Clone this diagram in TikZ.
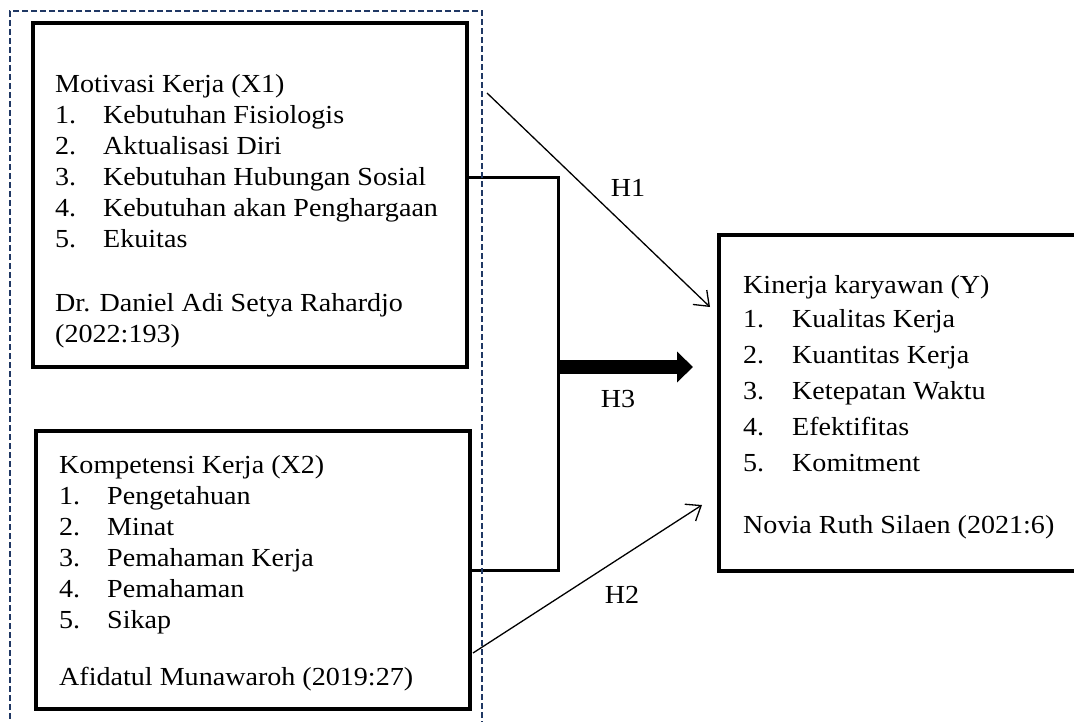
\documentclass[tikz,border=0pt]{standalone}
\usepackage{fontspec}
\setmainfont[FakeStretch=1.08]{Liberation Serif}
\usetikzlibrary{arrows.meta}
\definecolor{navy}{HTML}{203864}
\newcommand\numcol[1]{\makebox[48pt][l]{#1}}
\begin{document}
\begin{tikzpicture}[x=1pt,y=-1pt,
  box/.style={draw,line width=4pt,inner sep=0pt},
  txt/.style={inner sep=0pt,anchor=base west,font=\fontsize{26}{31}\selectfont},
  lbl/.style={inner sep=0pt,anchor=base,font=\fontsize{26}{31}\selectfont},
  bracket/.style={draw,line width=3pt},
  thinarrow/.style={draw,line width=1.3pt,-{Straight Barb[length=13pt,width=20pt,line width=1.3pt]}},
  fatarrow/.style={draw,line width=14pt,-{Triangle[length=16pt,width=30pt]}},
  group/.style={draw=navy,line width=1.6pt,dash pattern=on 6pt off 3pt,inner sep=0pt}]
\useasboundingbox (0,0) rectangle (1074,722);

% boxes
\node[box,minimum width=434pt,minimum height=344pt] (x1) at (250,195) {};
\node[box,minimum width=434pt,minimum height=278pt] (x2) at (253,570) {};
\node[box,minimum width=361pt,minimum height=336pt] (y) at (899.5,403) {};

% texts
\node[txt] (x1t) at (55,93) {\begin{tabular}[t]{@{}l@{}}
Motivasi Kerja (X1)\\
\numcol{1.}Kebutuhan Fisiologis\\
\numcol{2.}Aktualisasi Diri\\
\numcol{3.}Kebutuhan Hubungan Sosial\\
\numcol{4.}Kebutuhan akan Penghargaan\\
\numcol{5.}Ekuitas\\[33pt]
Dr. Daniel Adi Setya Rahardjo\\
(2022:193)
\end{tabular}};

\node[txt] (x2t) at (59,473) {\begin{tabular}[t]{@{}l@{}}
Kompetensi Kerja (X2)\\
\numcol{1.}Pengetahuan\\
\numcol{2.}Minat\\
\numcol{3.}Pemahaman Kerja\\
\numcol{4.}Pemahaman\\
\numcol{5.}Sikap\\[26pt]
Afidatul Munawaroh (2019:27)
\end{tabular}};

\node[txt] (yt) at (743,294) {\begin{tabular}[t]{@{}l@{}}
Kinerja karyawan (Y)\\[3pt]
\makebox[49pt][l]{1.}Kualitas Kerja\\[5pt]
\makebox[49pt][l]{2.}Kuantitas Kerja\\[5pt]
\makebox[49pt][l]{3.}Ketepatan Waktu\\[5pt]
\makebox[49pt][l]{4.}Efektifitas\\[5pt]
\makebox[49pt][l]{5.}Komitment\\[31pt]
Novia Ruth Silaen (2021:6)
\end{tabular}};

% bracket and H3
\coordinate (j) at (558,367);
\draw[bracket] ([yshift=17pt]x1.east) -| (j) |- (x2.east);
\draw[fatarrow,shorten >=24pt] (j) -- (y.west |- j);

% H1 and H2
\coordinate (h1s) at (487,93);
\coordinate (h1e) at (710,307);
\coordinate (h2s) at (473,653);
\coordinate (h2e) at (702,505);
\draw[thinarrow] (h1s) -- (h1e);
\draw[thinarrow] (h2s) -- (h2e);

\node[lbl] (lh1) at (628,197) {H1};
\node[lbl] (lh3) at (618,407) {H3};
\node[lbl] (lh2) at (622,603) {H2};

% dashed group frame
\node[group,minimum width=472pt,minimum height=730pt] (grp) at (246,376) {};
\end{tikzpicture}
\end{document}
